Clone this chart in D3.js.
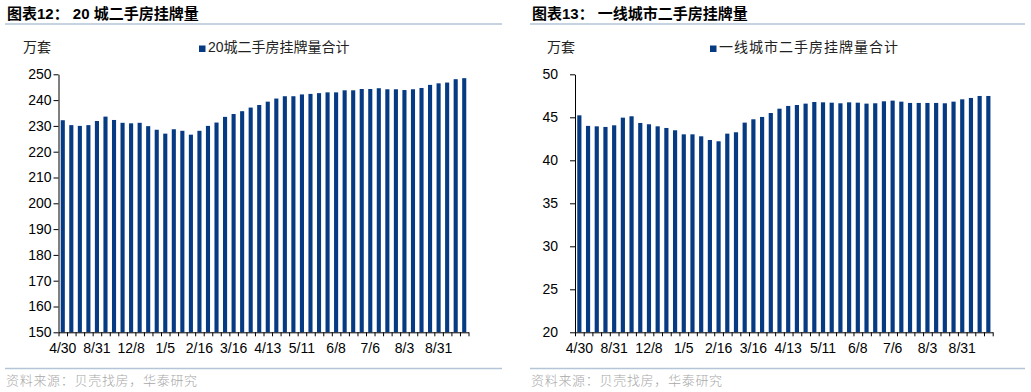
<!DOCTYPE html>
<html>
<head>
<meta charset="utf-8">
<script src="https://cdn.jsdelivr.net/npm/d3@7"></script>
<style>
  body { margin: 0; background: #fff; }
  svg { display: block; }
  .title { font-family: "Liberation Sans", "Noto Sans CJK SC", sans-serif; font-size: 15px; font-weight: bold; fill: #000; }
  .unit, .legend-text { font-family: "Liberation Sans", "Noto Sans CJK SC", sans-serif; font-size: 14px; fill: #222; }
  .source { font-family: "Noto Sans CJK SC", sans-serif; font-size: 13px; fill: #a8a8a8; letter-spacing: 0.7px; font-weight: 300; }
  .axis text { font-family: "Liberation Sans", Arial, sans-serif; font-size: 14px; fill: #000; }
  .axis path, .axis line { stroke: #000; }
</style>
</head>
<body>
<svg id="chart" width="1031" height="392"></svg>
<script>
// 48 weekly observations, x labels shown every 4th bar
const tickLabels = ['4/30', '8/31', '12/8', '1/5', '2/16', '3/16', '4/13', '5/11', '6/8', '7/6', '8/3', '8/31']

// 20 cities total listings (10k units)
const city20 = [
  232.2, 230.3, 230.0, 230.3, 231.9, 233.6, 232.3, 231.2, 231.0, 231.2, 229.9, 228.5,
  227.0, 228.7, 228.1, 226.6, 228.1, 230.0, 231.3, 233.5, 234.6, 235.7, 237.1, 238.1,
  239.4, 240.6, 241.5, 241.5, 242.2, 242.4, 242.7, 243.0, 243.0, 243.8, 243.8, 244.3,
  244.3, 244.6, 244.2, 244.2, 243.9, 244.2, 244.7, 245.9, 246.5, 246.8, 248.1, 248.5
]

// tier-1 cities total listings (10k units)
const tier1 = [
  45.23, 44.00, 43.95, 43.88, 44.07, 44.96, 45.12, 44.34, 44.19, 43.95, 43.76, 43.49,
  43.02, 43.02, 42.79, 42.36, 42.21, 43.10, 43.26, 44.38, 44.77, 45.04, 45.50, 46.00,
  46.32, 46.43, 46.59, 46.78, 46.74, 46.70, 46.63, 46.74, 46.70, 46.59, 46.63, 46.86,
  46.94, 46.82, 46.67, 46.67, 46.67, 46.67, 46.63, 46.82, 47.09, 47.25, 47.48, 47.48
]

const barColor = '#063a82'
const ruleColor = '#b3c5d6'
const svg = d3.select('#chart')

/**
 * Draws one titled bar chart panel.
 */
function drawPanel (cfg) {
  const g = svg.append('g')
  const n = cfg.values.length

  g.append('text').attr('class', 'title')
    .attr('x', cfg.frameLeft + 2).attr('y', 19)
    .text(cfg.title)
  g.append('line')
    .attr('x1', cfg.frameLeft).attr('x2', cfg.frameRight)
    .attr('y1', 24).attr('y2', 24)
    .attr('stroke', ruleColor).attr('stroke-width', 1.5)
  g.append('line')
    .attr('x1', cfg.frameLeft).attr('x2', cfg.frameRight)
    .attr('y1', 368.5).attr('y2', 368.5)
    .attr('stroke', ruleColor).attr('stroke-width', 1.5)
  g.append('text').attr('class', 'source')
    .attr('x', cfg.frameLeft + 1).attr('y', 385)
    .text('资料来源：贝壳找房，华泰研究')

  g.append('text').attr('class', 'unit')
    .attr('x', cfg.unitX).attr('y', 52)
    .text('万套')
  g.append('rect')
    .attr('x', cfg.legendX).attr('y', 45.5)
    .attr('width', 6.5).attr('height', 6.5)
    .attr('fill', barColor)
  g.append('text').attr('class', 'legend-text')
    .attr('x', cfg.legendX + 9).attr('y', 52)
    .attr('letter-spacing', cfg.legendSpacing)
    .text(cfg.legend)

  const x = d3.scaleBand()
    .domain(d3.range(n))
    .range([cfg.left, cfg.right])
    .paddingInner(0.52)
    .paddingOuter(0.26)
  const xEdges = d3.scaleLinear().domain([0, n]).range([cfg.left, cfg.right])
  const y = d3.scaleLinear().domain(cfg.domain).range([332.3, 74.3])

  g.selectAll('.bar')
    .data(cfg.values)
    .enter()
    .append('rect')
    .attr('class', 'bar')
    .attr('x', (d, i) => x(i))
    .attr('width', x.bandwidth())
    .attr('y', d => y(d))
    .attr('height', d => y(cfg.domain[0]) - y(d))
    .attr('fill', barColor)

  g.append('g')
    .attr('class', 'axis')
    .attr('transform', `translate(${cfg.left},0)`)
    .call(d3.axisLeft(y).tickValues(cfg.yTicks).tickSize(5).tickSizeOuter(0).tickPadding(cfg.yPad))

  g.append('g')
    .attr('class', 'axis')
    .attr('transform', 'translate(0,332.3)')
    .call(d3.axisBottom(xEdges).tickValues(d3.range(n + 1)).tickFormat('').tickSize(4).tickSizeOuter(0))

  g.append('g')
    .attr('class', 'axis')
    .attr('transform', 'translate(0,332.3)')
    .call(d3.axisBottom(x)
      .tickValues(tickLabels.map((d, i) => i * 4))
      .tickFormat(i => tickLabels[i / 4])
      .tickSize(0).tickPadding(11))
    .call(a => a.select('.domain').remove())
}

drawPanel({
  title: '图表12：  20 城二手房挂牌量',
  legend: '20城二手房挂牌量合计',
  legendSpacing: 0,
  values: city20,
  domain: [150, 250],
  yTicks: d3.range(150, 251, 10),
  yPad: 2,
  frameLeft: 5,
  frameRight: 502,
  unitX: 23,
  legendX: 199,
  left: 58.5,
  right: 468.5
})

drawPanel({
  title: '图表13：  一线城市二手房挂牌量',
  legend: '一线城市二手房挂牌量合计',
  legendSpacing: 1,
  values: tier1,
  domain: [20, 50],
  yTicks: d3.range(20, 51, 5),
  yPad: 12,
  frameLeft: 530,
  frameRight: 1025,
  unitX: 547,
  legendX: 710,
  left: 575,
  right: 992.7
})
</script>
</body>
</html>
